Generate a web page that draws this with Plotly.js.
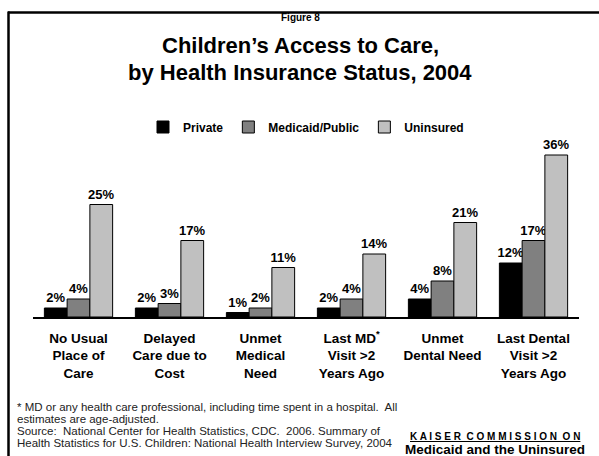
<!DOCTYPE html>
<html>
<head>
<meta charset="utf-8">
<script src="https://cdn.plot.ly/plotly-3.0.1.min.js"></script>
<style>html,body{margin:0;padding:0;background:#fff;}#chart{width:599px;height:456px;}</style>
</head>
<body>
<div id="chart"></div>
<script>
const categories = [
  "No Usual<br>Place of<br>Care",
  "Delayed<br>Care due to<br>Cost",
  "Unmet<br>Medical<br>Need",
  "Last MD<sup>*</sup><br>Visit >2<br>Years Ago",
  "Unmet<br>Dental Need",
  "Last Dental<br>Visit >2<br>Years Ago"
];
const seriesNames = ["Private", "Medicaid/Public", "Uninsured"];
const privateVals = [2, 2, 1, 2, 4, 12];
const medicaidVals = [4, 3, 2, 4, 8, 17];
const uninsuredVals = [25, 17, 11, 14, 21, 36];
const colors = ["#000000", "#808080", "#c0c0c0"];

const FONT = "Arial, 'Liberation Sans', sans-serif";
const allVals = [privateVals, medicaidVals, uninsuredVals];
const traces = allVals.map((vals, i) => ({
  type: "bar",
  name: seriesNames[i],
  x: categories,
  y: vals,
  text: vals.map(v => v + "%"),
  textposition: "outside",
  constraintext: "none",
  cliponaxis: false,
  textfont: {family: FONT, size: 13, color: "#000", weight: "bold"},
  marker: {color: colors[i], line: {color: "#000", width: 1}},
  hoverinfo: "none"
}));

// pixel helpers (plot area: x 33..579, y 137..317)
const L = 33, R = 579, T = 137, B = 317;
const px = x => (x - L) / (R - L);
const py = y => (B - y) / (B - T);

const ann = (text, x, y, size, opts = {}) => Object.assign({
  text, xref: "paper", yref: "paper", x: px(x), y: py(y),
  showarrow: false, xanchor: "center", yanchor: "middle",
  font: {family: FONT, size, color: "#000"}
}, opts);
const foot = (text, y) => ann(text, 15, y, 11.5, {xanchor: "left", font: {family: FONT, size: 11.5, color: "#222"}});

const layout = {
  width: 599, height: 456,
  margin: {l: L, r: 599 - R, t: T, b: 456 - B},
  paper_bgcolor: "#fff", plot_bgcolor: "#fff",
  barmode: "group", bargap: 0.25, bargroupgap: 0,
  showlegend: true,
  legend: {orientation: "h", x: 0.5, xanchor: "center", y: py(127), yanchor: "middle",
           font: {family: FONT, size: 12, color: "#000", weight: "bold"}, itemwidth: 30, traceorder: "normal"},
  xaxis: {showline: true, linecolor: "#000", linewidth: 1.5, ticks: "", fixedrange: true,
          tickfont: {family: FONT, size: 13.5, color: "#000", weight: "bold"}, ticklabelstandoff: 8, tickangle: 0},
  yaxis: {range: [0, 40], visible: false, showgrid: false, zeroline: false, fixedrange: true},
  annotations: [
    ann("<b>Figure 8</b>", 300, 18, 10),
    ann("<b>Children’s Access to Care,</b>", 300, 45, 22),
    ann("<b>by Health Insurance Status, 2004</b>", 300, 73, 22),
    foot("* MD or any health care professional, including time spent in a hospital.  All", 406.5),
    foot("estimates are age-adjusted.", 418.7),
    foot("Source:  National Center for Health Statistics, CDC.  2006. Summary of", 430.9),
    foot("Health Statistics for U.S. Children: National Health Interview Survey, 2004", 443.1),
    ann("<b><u>K A I S E R  C O M M I S S I O N  O N</u></b>", 495, 436, 10),
    ann("<b>Medicaid and the Uninsured</b>", 495, 449, 13.5)
  ],
  shapes: [
    {type: "line", xref: "paper", yref: "paper", x0: px(8), x1: px(600), y0: py(12.5), y1: py(12.5), line: {color: "#000", width: 2.5}},
    {type: "line", xref: "paper", yref: "paper", x0: px(8.5), x1: px(8.5), y0: py(11.5), y1: py(460), line: {color: "#000", width: 2.5}}
  ]
};

Plotly.newPlot("chart", traces, layout, {displayModeBar: false, staticPlot: true});
</script>
</body>
</html>
